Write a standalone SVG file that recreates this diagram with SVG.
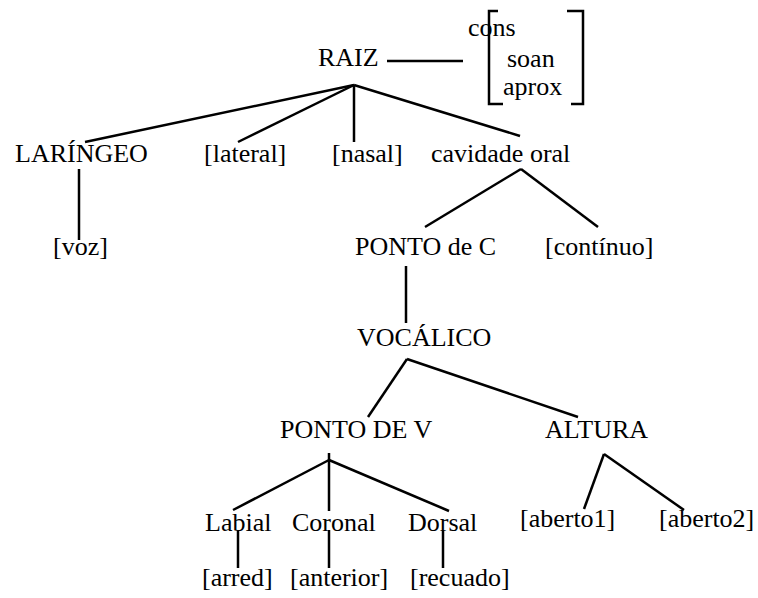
<svg xmlns="http://www.w3.org/2000/svg" width="758" height="598" viewBox="0 0 758 598">
  <style>
    text { font-family: "Liberation Serif", Tinos, "Times New Roman", Times, "Noto Serif", "DejaVu Serif", serif; font-size: 26px; fill: #000; }
    .edge { stroke: #000; stroke-width: 2.5; fill: none; stroke-linecap: butt; }
  </style>
  <rect width="758" height="598" fill="#fff"/>

  <!-- connectors -->
  <g id="connectors" class="edge">
    <!-- RAIZ to feature matrix -->
    <line x1="387" y1="61" x2="463" y2="61"/>
    <!-- RAIZ fan -->
    <line x1="354" y1="85" x2="85" y2="142"/>
    <line x1="354" y1="85" x2="238" y2="142"/>
    <line x1="354" y1="85" x2="354" y2="142"/>
    <line x1="354" y1="85" x2="520" y2="136"/>
    <!-- LARÍNGEO to [voz] -->
    <line x1="79" y1="169" x2="79" y2="240"/>
    <!-- cavidade oral -->
    <line x1="521" y1="169" x2="425" y2="227"/>
    <line x1="521" y1="169" x2="598" y2="227"/>
    <!-- PONTO de C to VOCÁLICO -->
    <line x1="406" y1="266" x2="406" y2="323"/>
    <!-- VOCÁLICO -->
    <line x1="407" y1="359" x2="368" y2="417"/>
    <line x1="407" y1="359" x2="578" y2="417"/>
    <!-- PONTO DE V -->
    <line x1="329" y1="453" x2="329" y2="511"/>
    <line x1="329" y1="460" x2="233" y2="510"/>
    <line x1="329" y1="460" x2="449" y2="511"/>
    <!-- articulators to features -->
    <line x1="238" y1="531" x2="238" y2="568"/>
    <line x1="329" y1="530" x2="329" y2="568"/>
    <line x1="443" y1="530" x2="443" y2="568"/>
    <!-- ALTURA -->
    <line x1="604" y1="454" x2="584" y2="509"/>
    <line x1="604" y1="454" x2="684" y2="510"/>
  </g>

  <g id="raiz"><text x="318" y="66">RAIZ</text></g>

  <g id="matrix">
    <path class="edge" d="M498,11 H489 V104 H503"/>
    <path class="edge" d="M567,11 H583 V104 H571"/>
    <text x="468" y="36">cons</text>
    <text x="507" y="67">soan</text>
    <text x="503" y="95">aprox</text>
  </g>

  <g id="laringeo"><text x="15" y="162">LARÍNGEO</text></g>
  <g id="lateral"><text x="204" y="162">[lateral]</text></g>
  <g id="nasal"><text x="332" y="162">[nasal]</text></g>
  <g id="cavidade-oral"><text x="431" y="162">cavidade oral</text></g>

  <g id="voz"><text x="53" y="255">[voz]</text></g>
  <g id="ponto-c"><text x="355" y="255">PONTO de C</text></g>
  <g id="continuo"><text x="545" y="255">[contínuo]</text></g>

  <g id="vocalico"><text x="357" y="346">VOCÁLICO</text></g>

  <g id="ponto-v"><text x="280" y="438">PONTO DE V</text></g>
  <g id="altura"><text x="545" y="438">ALTURA</text></g>

  <g id="labial"><text x="205" y="531">Labial</text></g>
  <g id="coronal"><text x="292" y="531">Coronal</text></g>
  <g id="dorsal"><text x="408" y="531">Dorsal</text></g>
  <g id="aberto1"><text x="520" y="527">[aberto1]</text></g>
  <g id="aberto2"><text x="659" y="527">[aberto2]</text></g>

  <g id="arred"><text x="202" y="586">[arred]</text></g>
  <g id="anterior"><text x="290" y="586">[anterior]</text></g>
  <g id="recuado"><text x="410" y="586">[recuado]</text></g>
</svg>
